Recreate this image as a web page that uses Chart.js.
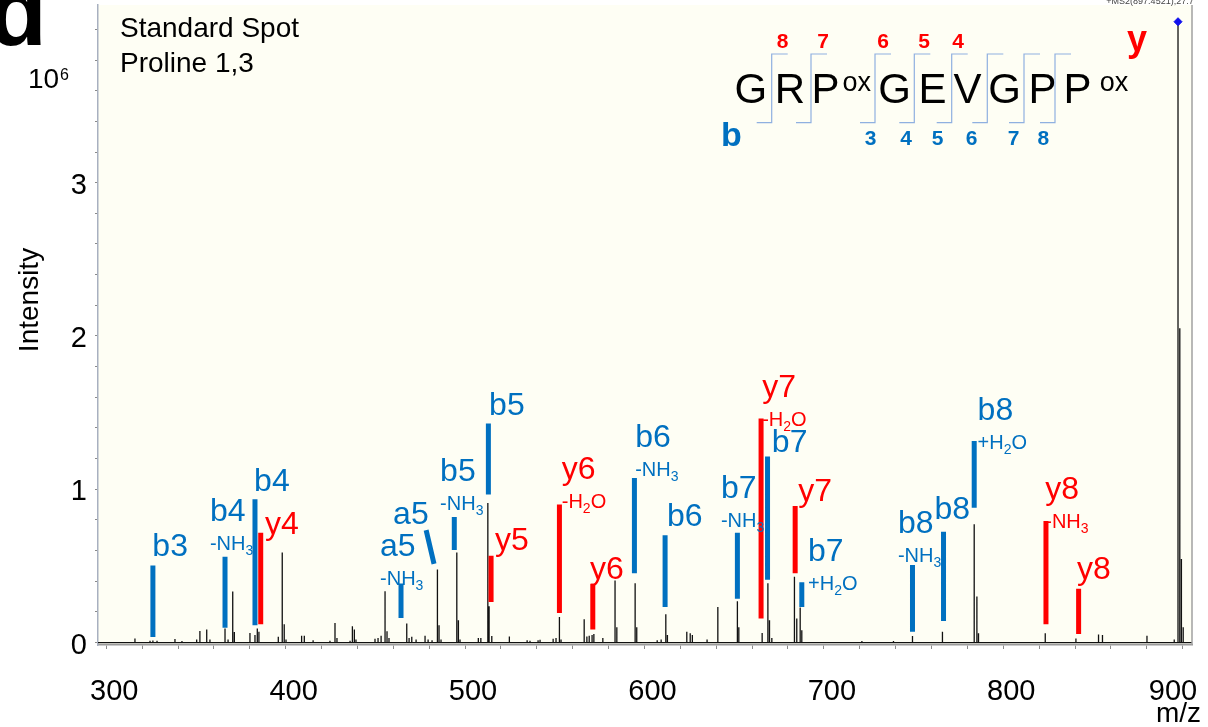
<!DOCTYPE html>
<html>
<head>
<meta charset="utf-8">
<title>Standard Spot - Proline 1,3</title>
<script src="https://cdn.jsdelivr.net/npm/chart.js@4.4.1/dist/chart.umd.min.js"></script>
<style>
  html, body { margin: 0; padding: 0; background: #fff; }
  #wrap { width: 1208px; height: 727px; }
</style>
</head>
<body>
<div id="wrap"><canvas id="spec" width="1208" height="727"></canvas></div>
<script>
// MS/MS spectrum, precursor 897.45, GRP(ox)GEVGPP(ox)

// peaks (m/z, intensity in 10^6)
const peakMz = [
  316.0, 324.4, 326.0, 328.3, 338.3, 342.2, 350.4, 352.2, 356.0, 357.8,
  366.2, 367.9, 370.5, 371.4, 380.1, 382.9, 384.2, 385.1, 395.9, 398.1,
  399.2, 400.2, 408.9, 410.4, 415.3, 424.7, 427.5, 428.6, 435.9, 437.2,
  438.3, 439.2, 449.8, 451.5, 453.2, 455.4, 456.5, 457.6, 467.5, 468.8,
  470.3, 472.7, 477.7, 479.4, 481.6, 484.6, 485.5, 486.6, 495.4, 496.3,
  497.2, 507.4, 508.8, 512.7, 513.4, 514.9, 524.7, 534.6, 536.2, 540.7,
  541.8, 549.1, 550.7, 552.6, 553.5, 566.4, 567.9, 569.2, 570.8, 571.8,
  576.8, 583.6, 584.6, 594.8, 595.7, 607.1, 609.3, 611.9, 612.8, 623.6,
  625.5, 626.7, 634.9, 640.9, 651.8, 652.6, 665.6, 668.8, 669.7, 671.0,
  683.6, 684.9, 686.8, 687.7, 721.2, 738.8, 749.4, 766.1, 783.8, 785.3,
  786.2, 823.4, 840.5, 853.1, 855.3, 880.1, 895.3, 897.4, 898.4, 899.3,
  900.3
];
const peakInt = [
  0.027, 0.012, 0.013, 0.012, 0.023, 0.010, 0.020, 0.075, 0.085, 0.020,
  0.092, 0.020, 0.333, 0.068, 0.063, 0.049, 0.092, 0.070, 0.038, 0.588,
  0.120, 0.020, 0.044, 0.044, 0.015, 0.012, 0.128, 0.030, 0.012, 0.107,
  0.085, 0.020, 0.025, 0.030, 0.045, 0.335, 0.074, 0.030, 0.124, 0.030,
  0.038, 0.020, 0.044, 0.020, 0.015, 0.476, 0.113, 0.020, 0.588, 0.146,
  0.020, 0.030, 0.030, 0.911, 0.236, 0.042, 0.040, 0.015, 0.012, 0.015,
  0.018, 0.025, 0.030, 0.167, 0.020, 0.152, 0.040, 0.045, 0.050, 0.055,
  0.030, 0.405, 0.100, 0.387, 0.100, 0.015, 0.020, 0.184, 0.049, 0.070,
  0.060, 0.049, 0.020, 0.232, 0.269, 0.100, 0.063, 0.387, 0.146, 0.030,
  0.430, 0.157, 0.228, 0.080, 0.010, 0.010, 0.042, 0.070, 0.772, 0.301,
  0.060, 0.060, 0.027, 0.053, 0.049, 0.044, 0.020, 4.050, 2.050, 0.545,
  0.100
];

// fragment annotations
const ionName = ['b3','b4','b4','y4','a5','a5','b5','b5','y5','y6','y6','b6','b6','b7','y7','b7','y7','b7','b8','b8','b8','y8','y8'];
const ionLoss = ['','-NH3','','','-NH3','','-NH3','','','-H2O','','-NH3','','-NH3','-H2O','','','+H2O','-NH3','','+H2O','-NH3',''];
const ionMzLow  = [326.0,366.2,382.9,386.1,464.3,482.7,494.0,513.0,514.5,552.6,571.2,594.4,611.5,651.8,665.0,668.6,684.0,687.7,749.4,766.7,783.8,823.8,842.0];
const ionMzHigh = [326.0,366.2,382.9,386.1,464.3,478.3,494.0,513.0,514.5,552.6,571.2,594.4,611.5,651.8,665.0,668.6,684.0,687.7,749.4,766.7,783.8,823.8,842.0];
const ionLow  = [0.036,0.096,0.113,0.120,0.160,0.513,0.603,0.966,0.264,0.193,0.085,0.452,0.232,0.286,0.157,0.409,0.452,0.232,0.070,0.141,0.879,0.120,0.055];
const ionHigh = [0.502,0.560,0.935,0.717,0.385,0.733,0.819,1.429,0.566,0.901,0.383,1.073,0.700,0.717,1.461,1.214,0.890,0.394,0.506,0.722,1.315,0.793,0.351];
const labelMz  = [325.7,357.8,382.4,388.5,452.6,459.9,486.1,513.4,516.7,553.9,569.7,594.8,612.5,642.6,665.6,671.0,685.7,691.2,741.3,761.7,785.7,823.4,841.1];
const labelInt = [0.566,0.793,0.987,0.709,0.566,0.773,1.052,1.485,0.601,1.065,0.417,1.278,0.761,0.944,1.599,1.246,0.924,0.534,0.717,0.804,1.451,0.935,0.417];

// axes
const xTickLabels = [300, 400, 500, 600, 700, 800, 900];
const yTickLabels = [0, 1, 2, 3];

// peptide inset
const seqLetters = ['G','R','P','G','E','V','G','P','P'];
const yNumbers = ['8','7','6','5','4'];
const bNumbers = ['3','4','5','6','7','8'];

const FONT = '"Liberation Sans", Arial, sans-serif';
const BLUE = '#0070C0';
const RED = '#FF0000';
const X_MIN = 295.4, X_MAX = 905.2;

// stick spectrum as one line with a baseline between peaks
const order = peakMz.map((_, i) => i).sort((a, b) => peakMz[a] - peakMz[b]);
const spectrum = [{ x: X_MIN, y: 0 }];
order.forEach(i => {
  spectrum.push({ x: peakMz[i], y: 0 }, { x: peakMz[i], y: peakInt[i] }, { x: peakMz[i], y: 0 });
});
spectrum.push({ x: X_MAX, y: 0 });

function ionBars(filter) {
  const pts = [];
  ionName.forEach((n, i) => {
    if (!filter(n)) return;
    pts.push({ x: ionMzLow[i], y: ionLow[i] }, { x: ionMzHigh[i], y: ionHigh[i] }, { x: ionMzHigh[i], y: null });
  });
  return pts;
}

const pIdx = peakInt.indexOf(Math.max(...peakInt));

function drawFormula(ctx, txt, x, y, color) {
  ctx.fillStyle = color;
  ctx.textAlign = 'left';
  ctx.textBaseline = 'alphabetic';
  let cx = x;
  for (const ch of txt) {
    const sub = /[0-9]/.test(ch);
    ctx.font = (sub ? '14px ' : '20px ') + FONT;
    ctx.fillText(ch, cx, sub ? y + 5 : y);
    cx += ctx.measureText(ch).width;
  }
}

const decor = {
  id: 'decor',
  beforeDraw(chart) {
    const { ctx, chartArea: a } = chart;
    ctx.save();
    ctx.fillStyle = '#ffffff';
    ctx.fillRect(0, 0, chart.width, chart.height);
    ctx.fillStyle = '#fefef4';
    ctx.fillRect(a.left, a.top, a.right - a.left, a.bottom - a.top);
    ctx.restore();
  },
  afterDraw(chart) {
    const { ctx, chartArea: a } = chart;
    const xs = chart.scales.x, ys = chart.scales.y;
    ctx.save();

    // right frame
    ctx.strokeStyle = '#a0a0a0';
    ctx.lineWidth = 1.5;
    ctx.beginPath();
    ctx.moveTo(a.right, a.top);
    ctx.lineTo(a.right, a.bottom);
    ctx.stroke();

    // tick labels (kept inside the frame at the right end)
    ctx.fillStyle = '#000';
    ctx.font = '29px ' + FONT;
    ctx.textAlign = 'center';
    ctx.textBaseline = 'alphabetic';
    xTickLabels.forEach(v => {
      const px = Math.min(xs.getPixelForValue(v) + 8, a.right - 19);
      ctx.fillText(String(v), px, 700);
    });
    ctx.textAlign = 'right';
    ctx.textBaseline = 'middle';
    yTickLabels.forEach(v => ctx.fillText(String(v), 87, ys.getPixelForValue(v) + 3));

    // 10^6
    ctx.textAlign = 'left';
    ctx.textBaseline = 'alphabetic';
    ctx.font = '28px ' + FONT;
    ctx.fillText('10', 28, 88);
    ctx.font = '16px ' + FONT;
    ctx.fillText('6', 60, 80);

    // axis titles
    ctx.font = '28px ' + FONT;
    ctx.fillText('m/z', 1156, 722);
    ctx.save();
    ctx.translate(30, 300);
    ctx.rotate(-Math.PI / 2);
    ctx.textAlign = 'center';
    ctx.textBaseline = 'middle';
    ctx.fillText('Intensity', 0, 0);
    ctx.restore();

    // panel letter
    ctx.font = 'bold 96px ' + FONT;
    ctx.textAlign = 'right';
    ctx.fillText('d', 47, 45);

    // sample text
    ctx.textAlign = 'left';
    ctx.font = '28px ' + FONT;
    ctx.fillText('Standard Spot', 120, 37);
    ctx.fillText('Proline 1,3', 120, 72);

    // scan header
    ctx.fillStyle = '#444';
    ctx.font = '9px ' + FONT;
    ctx.textAlign = 'center';
    ctx.fillText('+MS2(897.4521),27.7', 1150, 4);

    // ion labels
    ionName.forEach((name, i) => {
      const color = name[0] === 'y' ? RED : BLUE;
      const x = xs.getPixelForValue(labelMz[i]);
      const y = ys.getPixelForValue(labelInt[i]);
      ctx.fillStyle = color;
      ctx.font = '32px ' + FONT;
      ctx.textAlign = 'left';
      ctx.textBaseline = 'alphabetic';
      ctx.fillText(name, x, y);
      if (ionLoss[i]) drawFormula(ctx, ionLoss[i], x, y + 29, color);
    });

    // peptide sequence inset
    const letterX = [750.8, 790, 825.5, 894.5, 932.5, 967.5, 1004.7, 1042.5, 1077.5];
    ctx.fillStyle = '#000';
    ctx.textAlign = 'center';
    ctx.font = '42px ' + FONT;
    seqLetters.forEach((l, i) => ctx.fillText(l, letterX[i], 103));
    ctx.font = '27px ' + FONT;
    ctx.fillText('ox', 856.7, 91);
    ctx.fillText('ox', 1114, 91);

    const cutX = [771.7, 811, 875, 914.3, 951.7, 987.3, 1024, 1055];
    ctx.strokeStyle = '#8fb0e0';
    ctx.lineWidth = 1.2;
    cutX.forEach(cx => {
      ctx.beginPath();
      ctx.moveTo(cx - 15, 122.7);
      ctx.lineTo(cx, 122.7);
      ctx.lineTo(cx, 54);
      ctx.lineTo(cx + 16, 54);
      ctx.stroke();
    });

    ctx.font = 'bold 21px ' + FONT;
    ctx.fillStyle = RED;
    const yNumX = [782.5, 823, 883, 924, 958];
    yNumbers.forEach((n, i) => ctx.fillText(n, yNumX[i], 48));
    ctx.fillStyle = BLUE;
    const bNumX = [870.5, 906, 937.5, 971.7, 1013.7, 1043.3];
    bNumbers.forEach((n, i) => ctx.fillText(n, bNumX[i], 145));

    ctx.textAlign = 'left';
    ctx.font = 'bold 34px ' + FONT;
    ctx.fillText('b', 721, 146);
    ctx.fillStyle = RED;
    ctx.font = 'bold 36px ' + FONT;
    ctx.fillText('y', 1127, 51);

    ctx.restore();
  }
};

const ctx = document.getElementById('spec').getContext('2d');
new Chart(ctx, {
  type: 'scatter',
  data: {
    datasets: [
      {
        label: 'spectrum',
        data: spectrum,
        showLine: true,
        borderColor: '#111',
        borderWidth: 1.3,
        borderJoinStyle: 'bevel',
        pointRadius: 0,
        order: 3
      },
      {
        label: 'b/a ions',
        data: ionBars(n => n[0] !== 'y'),
        showLine: true,
        spanGaps: false,
        borderColor: BLUE,
        borderWidth: 5,
        borderCapStyle: 'butt',
        pointRadius: 0,
        order: 2
      },
      {
        label: 'y ions',
        data: ionBars(n => n[0] === 'y'),
        showLine: true,
        spanGaps: false,
        borderColor: RED,
        borderWidth: 5,
        borderCapStyle: 'butt',
        pointRadius: 0,
        order: 2
      },
      {
        label: 'precursor',
        data: [{ x: peakMz[pIdx], y: peakInt[pIdx] }],
        pointStyle: 'rectRot',
        pointRadius: 4,
        backgroundColor: '#1010ee',
        borderColor: '#1010ee',
        order: 1
      }
    ]
  },
  options: {
    responsive: false,
    devicePixelRatio: 1,
    animation: false,
    layout: { padding: { left: 0, right: 16, top: 0, bottom: 0 } },
    plugins: { legend: { display: false }, tooltip: { enabled: false } },
    scales: {
      x: {
        type: 'linear',
        min: X_MIN,
        max: X_MAX,
        afterFit: s => { s.height = 82; },
        ticks: { display: false, stepSize: 20, includeBounds: false },
        grid: { drawOnChartArea: false, drawTicks: true, tickLength: 4, color: '#8a8a8a' },
        border: { color: '#9a9a9a', width: 1.5 }
      },
      y: {
        min: -0.016,
        max: 4.159,
        afterFit: s => { s.width = 98; },
        ticks: { display: false, stepSize: 0.2, includeBounds: false },
        grid: { drawOnChartArea: false, drawTicks: true, tickLength: 3, color: '#8a8a8a' },
        border: { color: '#a8b0c0', width: 1.5 }
      }
    }
  },
  plugins: [decor]
});
</script>
</body>
</html>
